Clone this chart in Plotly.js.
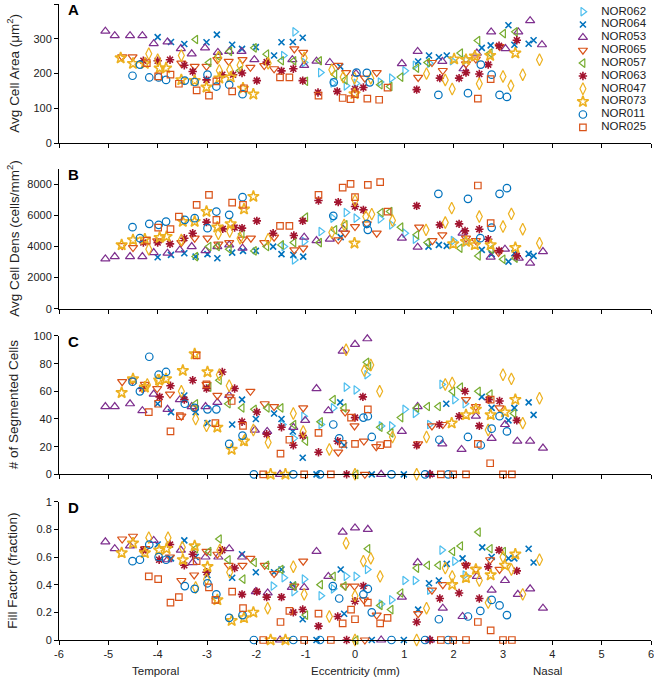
<!DOCTYPE html>
<html>
<head>
<meta charset="utf-8">
<script src="https://cdn.plot.ly/plotly-3.0.1.min.js"></script>
<style>html,body{margin:0;padding:0;background:#fff;}#chart{width:654px;height:681px;}</style>
</head>
<body>
<div id="chart"></div>
<script>
// ---------------- DATA ----------------
const seriesNames = ["NOR062","NOR064","NOR053","NOR065","NOR057","NOR063","NOR047","NOR073","NOR011","NOR025"];
const xTickVals = [-6,-5,-4,-3,-2,-1,0,1,2,3,4,5,6];
const xTickText = ["-6","-5","-4","-3","-2","-1","0","1","2","3","4","5","6"];

// Panel A: Avg Cell Area (um^2)
const A_NOR062_x = [-1.45,-1.22,-1.03,-0.70,-0.45,-0.18,0.02,0.51,0.74,1.01,1.22,1.51,1.97,2.25];
const A_NOR062_y = [252,320,232,203,173,165,172,176,187,208,224,230,237,240];
const A_NOR064_x = [-4.0,-3.73,-3.46,-3.01,-2.80,-2.49,-2.29,-2.01,-1.64,-1.49,-1.26,-1.06,-0.30,1.28,1.50,1.70,1.86,2.57,2.75,3.11,3.23,3.52,3.62];
const A_NOR064_y = [305,291,285,290,312,283,271,276,252,290,291,303,220,235,252,247,252,274,281,339,283,286,296];
const A_NOR053_x = [-5.06,-4.87,-4.56,-4.31,-4.08,-3.80,-3.53,-3.31,-3.04,-2.78,-2.55,-2.30,-2.04,-1.27,-1.03,-0.78,-0.51,0.02,0.95,1.27,1.77,2.20,2.47,2.76,3.05,3.31,3.55,3.79];
const A_NOR053_y = [322,309,309,309,286,291,272,257,274,261,264,264,240,240,224,236,232,200,229,264,235,214,259,320,272,320,352,283];
const A_NOR065_x = [-4.72,-4.51,-3.52,-3.25,-3.01,-2.79,-2.56,-2.28,-2.12,-1.84,-1.64,-1.23,-1.05,-0.34,-0.18,0.20,0.44,1.28,1.56,1.78,2.25,2.45,2.93];
const A_NOR065_y = [248,248,230,221,221,240,235,240,218,223,214,271,261,224,203,187,203,189,232,209,228,242,278];
const A_NOR057_x = [-3.23,-2.96,-2.77,-2.54,-2.33,-2.04,-1.79,-1.49,-1.24,-1.00,-0.72,-0.41,-0.20,0.51,0.71,0.93,1.25,1.47,2.14,2.49,2.74,3.01,3.25];
const A_NOR057_y = [298,232,250,264,209,274,256,237,237,178,237,198,182,168,163,190,216,232,259,295,259,315,320];
const A_NOR063_x = [-4.29,-4.00,-3.75,-3.46,-3.29,-3.01,-2.69,-2.47,-2.29,-1.99,-1.79,-1.49,-1.25,-1.06,-0.75,-0.36,0.00,0.17,1.25,1.72,2.11,2.25,2.52,2.70,2.92,3.28];
const A_NOR063_y = [237,237,240,224,206,182,197,197,202,180,233,208,214,180,146,149,156,160,154,187,187,203,199,226,280,296];
const A_NOR047_x = [-4.18,-4.00,-3.52,-2.77,-2.75,-2.54,-2.33,-1.76,-1.03,-0.47,-0.24,-0.01,0.32,1.45,1.83,1.97,2.52,3.00,3.16,3.40,3.74];
const A_NOR047_y = [257,240,252,247,209,211,224,230,245,211,190,187,187,200,182,156,171,192,165,197,240];
const A_NOR073_x = [-4.75,-4.50,-4.26,-3.96,-3.83,-3.52,-3.25,-3.01,-2.75,-2.52,-2.27,-2.06,-0.01,2.01,2.25,2.43,2.74,3.25];
const A_NOR073_y = [245,229,229,216,216,182,180,161,187,190,158,141,142,242,240,250,252,259];
const A_NOR011_x = [-4.51,-4.36,-4.17,-3.98,-3.83,-3.45,-3.25,-2.99,-2.81,-2.55,-2.28,-0.43,0.03,0.24,0.30,1.69,2.29,2.55,2.77,2.93,3.08];
const A_NOR011_y = [194,226,189,189,182,180,176,197,163,168,141,175,203,202,175,139,144,226,197,139,133];
const A_NOR025_x = [-4.22,-3.99,-3.74,-3.57,-3.21,-2.96,-2.81,-2.49,-2.25,-1.52,-1.33,-0.74,-0.25,-0.09,0.00,0.25,0.49,0.66,2.49,2.75];
const A_NOR025_y = [230,192,197,171,152,137,178,149,158,189,189,137,130,127,141,128,125,160,128,184];

// Panel B: Avg Cell Density (cells/mm^2)
const B_NOR062_x = [-1.44,-1.23,-1.03,-0.69,-0.45,-0.18,0.02,0.51,0.74,1.01,1.22,1.99,2.25];
const B_NOR062_y = [4000,3141,4322,4967,5831,6192,5831,5786,5399,4863,4476,4386,4322];
const B_NOR064_x = [-4.0,-3.73,-3.46,-3.23,-2.99,-2.79,-2.49,-2.27,-2.01,-1.66,-1.49,-1.25,-1.05,-0.29,1.49,1.70,1.86,2.57,2.77,3.11,3.23,3.52,3.62];
const B_NOR064_y = [3315,3464,3573,3354,3509,3251,3612,3722,3722,4000,3509,3464,3354,4605,4000,4109,4044,3786,3509,3032,3573,3528,3399];
const B_NOR053_x = [-5.06,-4.87,-4.56,-4.31,-4.08,-3.80,-3.55,-3.31,-3.03,-2.79,-2.55,-2.28,-1.03,-0.78,-0.51,-0.24,0.95,1.27,2.18,2.75,3.04,3.32,3.55,3.81];
const B_NOR053_y = [3206,3354,3354,3354,3612,3573,3786,4000,3741,4000,4109,3896,4605,4386,4476,5121,4541,3960,4863,3315,3831,3251,2928,3677];
const B_NOR065_x = [-4.72,-4.50,-4.01,-3.52,-3.25,-2.99,-2.77,-2.55,-2.28,-2.11,-1.84,-1.64,-1.23,-1.05,-0.34,-0.20,0.00,0.24,0.44,1.30,1.57,1.77,2.25,2.45,2.91];
const B_NOR065_y = [4064,3935,4367,4257,4541,4541,4154,4257,4476,4541,4257,4605,3786,3896,4431,4863,5289,5463,4863,5250,4386,4754,4541,4386,3612];
const B_NOR057_x = [-3.23,-2.96,-2.79,-2.55,-2.29,-2.04,-1.79,-1.49,-1.24,-1.00,-0.72,-0.41,-0.20,0.53,0.71,0.93,1.25,1.47,2.13,2.50,2.76,3.00,3.25];
const B_NOR057_y = [3354,4000,4000,3831,4818,3722,4000,4109,4257,5895,4257,5076,5399,6192,6257,5250,4754,4257,3896,3399,3831,3186,3251];
const B_NOR063_x = [-4.29,-4.00,-3.75,-3.46,-3.29,-3.01,-2.68,-2.44,-2.29,-1.99,-1.66,-1.24,-1.06,-0.74,-0.34,0.00,0.17,1.25,1.72,2.11,2.23,2.52,2.70,2.92,3.28];
const B_NOR063_y = [4257,4257,4173,4541,4863,5573,5141,5225,5186,5657,4863,4709,5657,6966,6863,6579,6366,6624,5399,5463,5012,5121,4476,3741,3399];
const B_NOR047_x = [-4.18,-3.52,-2.77,-2.54,-2.33,-1.76,-0.47,-0.22,0.00,0.22,0.34,0.76,1.44,1.83,1.96,2.52,3.00,3.17,3.40,3.74];
const B_NOR047_y = [3831,4431,4818,4967,4541,4476,4902,5399,6966,5934,6089,5676,5076,5547,6476,5934,5289,6108,5121,4218];
const B_NOR073_x = [-4.73,-4.50,-4.26,-3.96,-3.82,-3.49,-3.25,-3.01,-2.79,-2.52,-2.25,-2.06,-0.01,1.99,2.25,2.43,2.75,3.25];
const B_NOR073_y = [4109,4431,4476,4580,4644,5612,5612,6257,5250,5463,6411,7224,4218,4173,4322,4109,4109,3935];
const B_NOR011_x = [-4.51,-4.36,-4.17,-3.98,-3.83,-3.45,-3.25,-2.99,-2.81,-2.55,-2.28,-0.44,0.24,0.26,1.69,2.29,2.54,2.77,2.93,3.08];
const B_NOR011_y = [5250,4541,5463,5399,5612,5721,5831,5186,6257,6044,7185,5979,5463,5076,7398,7076,4541,5225,7398,7766];
const B_NOR025_x = [-4.22,-3.99,-3.74,-3.57,-3.21,-2.96,-2.81,-2.49,-2.27,-1.52,-1.33,-0.74,-0.25,-0.09,0.00,0.26,0.51,0.66,2.49,2.75];
const B_NOR025_y = [4386,5225,5121,5934,6689,7334,5721,6837,6689,5334,5334,7334,7804,8043,7185,7979,8153,6257,7934,5508];

// Panel C: # of Segmented Cells
const C_NOR062_x = [-1.47,-1.24,-1.04,-0.69,-0.44,-0.18,0.02,0.24,0.53,0.74,1.01,1.22,1.51,1.76,2.02,2.23];
const C_NOR062_y = [36,26,42,36,48,63,61,72,35,35,47,44,36,65,54,51];
const C_NOR064_x = [-4.0,-3.73,-3.46,-3.23,-2.99,-2.49,-2.29,-2.01,-1.64,-1.49,-1.26,-1.06,-0.30,-0.22,1.85,2.57,2.77,3.11,3.23,3.52,3.62,-0.78,0.34,0.99];
const C_NOR064_y = [51,45,57,45,37,36,54,40,44,40,31,12,52,21,51,56,48,39,48,52,43,0,0,0];
const C_NOR053_x = [-5.06,-4.87,-4.56,-4.31,-4.08,-3.80,-3.55,-3.31,-3.03,-2.79,-2.55,-2.03,-1.78,-1.25,-1.01,-0.78,-0.54,-0.25,0.00,0.25,0.95,1.27,1.77,2.16,2.45,2.77,3.04,3.29,3.55,3.81,-1.52,0.53,1.52];
const C_NOR053_y = [49,49,51,46,58,47,54,49,49,52,57,32,31,34,39,62,46,89,94,98,31,49,22,18,42,26,36,24,24,19,0,0,0];
const C_NOR065_x = [-4.72,-4.51,-4.26,-4.01,-3.75,-3.52,-3.26,-3.01,-2.79,-2.54,-2.12,-1.83,-1.64,-1.05,-0.34,-0.20,-0.01,0.18,0.43,1.28,1.56,1.78,2.25,2.45,2.93,0.20];
const C_NOR065_y = [67,68,65,62,58,42,48,65,57,56,60,51,49,48,16,45,35,24,20,22,35,36,54,49,48,0];
const C_NOR057_x = [-3.23,-2.96,-2.75,-2.57,-2.29,-2.04,-1.78,-1.50,-1.24,-1.00,-0.70,-0.44,-0.22,0.24,0.28,0.51,0.73,0.93,1.25,1.47,1.69,1.98,2.14,2.50,2.74,3.22,0.02];
const C_NOR057_y = [51,63,68,51,48,47,48,48,36,24,38,54,48,81,78,34,30,41,48,49,49,60,63,60,58,44,0];
const C_NOR063_x = [-4.31,-3.96,-3.74,-3.46,-3.29,-3.01,-2.69,-2.44,-2.29,-1.99,-1.79,-1.49,-1.25,-1.06,-0.74,-0.35,0.00,0.16,1.25,1.71,2.11,2.23,2.52,2.71,2.93,3.28,-0.17,1.52];
const C_NOR063_y = [62,56,64,54,68,62,74,62,38,45,29,34,21,28,16,24,41,56,21,36,42,60,35,54,53,39,0,0];
const C_NOR047_x = [-4.21,-4.0,-3.52,-3.23,-3.01,-2.75,-2.55,-2.23,-2.06,-1.76,-1.25,-1.05,-0.52,-0.18,0.19,0.32,0.50,0.76,1.45,1.83,1.97,2.70,3.00,3.17,3.40,3.74,0.00,1.25];
const C_NOR047_y = [65,68,60,40,35,72,64,25,32,23,44,31,18,90,75,79,60,27,27,65,66,32,72,69,37,55,0,0];
const C_NOR073_x = [-4.73,-4.50,-4.26,-3.97,-3.83,-3.49,-3.25,-2.99,-2.79,-2.50,-2.25,1.96,2.25,2.45,2.75,3.04,3.25,-1.71,-1.41];
const C_NOR073_y = [59,69,63,68,69,75,87,74,34,18,24,37,43,47,43,45,54,0,0];
const C_NOR011_x = [-4.51,-4.36,-4.17,-3.98,-3.83,-3.45,-3.25,-2.99,-2.81,-2.55,-2.28,-0.44,-0.32,0.17,0.26,0.34,1.71,2.29,2.55,2.77,2.93,3.08,-2.05,-1.25,-0.71,0.74,1.42,1.89];
const C_NOR011_y = [67,60,85,72,74,51,48,47,47,22,28,36,26,41,42,27,25,27,21,33,42,31,0,0,0,0,0,0];
const C_NOR025_x = [-4.18,-3.99,-3.74,-3.55,-3.21,-3.01,-2.83,-2.50,-2.27,-1.51,-1.33,-0.74,-0.25,-0.08,0.00,0.26,0.51,0.66,2.49,2.75,2.74,-1.86,-1.03,-0.49,1.74,1.99,2.25,3.00,3.18];
const C_NOR025_y = [45,51,31,42,86,65,37,53,35,15,25,30,22,41,22,47,21,22,22,54,8,0,0,0,0,0,0,0,0];

// Panel D: Fill Factor (fraction)
const D_NOR062_x = [-1.66,-1.44,-1.24,-1.03,-0.69,-0.44,-0.18,0.02,0.25,0.53,0.74,1.01,1.22,1.51,1.76,2.02,2.23];
const D_NOR062_y = [0.39,0.45,0.35,0.44,0.32,0.37,0.46,0.46,0.51,0.26,0.29,0.43,0.43,0.36,0.65,0.57,0.47];
const D_NOR064_x = [-4.0,-3.73,-3.46,-3.23,-2.99,-2.49,-2.29,-2.01,-1.64,-1.49,-1.26,-1.06,-0.29,-0.22,1.28,1.50,1.70,1.86,2.18,2.58,2.77,3.11,3.23,3.52,3.62,-0.78,0.34,0.99];
const D_NOR064_y = [0.69,0.59,0.72,0.60,0.47,0.45,0.62,0.49,0.49,0.51,0.40,0.15,0.51,0.19,0.22,0.41,0.43,0.55,0.59,0.67,0.60,0.59,0.59,0.66,0.56,0,0,0];
const D_NOR053_x = [-5.06,-4.87,-4.56,-4.08,-3.80,-3.53,-3.29,-3.03,-2.77,-2.55,-2.29,-2.01,-1.77,-1.28,-1.03,-0.78,-0.54,-0.25,0.00,0.26,0.95,1.27,1.78,2.18,2.47,2.77,3.04,3.30,3.55,3.81,-1.52,0.53,1.52];
const D_NOR053_y = [0.71,0.66,0.68,0.72,0.58,0.65,0.56,0.60,0.60,0.66,0.60,0.35,0.34,0.38,0.38,0.64,0.46,0.78,0.81,0.80,0.31,0.56,0.23,0.17,0.46,0.36,0.43,0.33,0.37,0.23,0,0,0];
const D_NOR065_x = [-4.72,-4.50,-4.25,-3.75,-3.52,-3.26,-3.01,-2.79,-2.56,-2.28,-2.12,-1.83,-1.64,-1.23,-1.05,-0.20,-0.01,0.18,0.44,1.28,1.56,1.78,2.25,2.45,2.74,2.93,0.20];
const D_NOR065_y = [0.73,0.75,0.66,0.60,0.43,0.47,0.64,0.62,0.54,0.54,0.59,0.54,0.48,0.39,0.57,0.39,0.39,0.29,0.18,0.19,0.36,0.40,0.54,0.51,0.58,0.51,0];
const D_NOR057_x = [-3.23,-2.96,-2.75,-2.57,-2.27,-2.04,-1.79,-1.50,-1.24,-1.00,-0.70,-0.44,-0.22,0.26,0.51,0.73,0.93,1.25,1.47,1.69,1.98,2.14,2.50,2.74,3.01,0.02];
const D_NOR057_y = [0.66,0.64,0.73,0.58,0.44,0.56,0.54,0.51,0.39,0.18,0.40,0.46,0.39,0.66,0.25,0.22,0.34,0.52,0.54,0.54,0.64,0.68,0.78,0.66,0.64,0];
const D_NOR063_x = [-4.29,-3.97,-3.75,-3.46,-3.29,-3.01,-2.69,-2.44,-2.29,-1.99,-1.79,-1.49,-1.25,-1.06,-0.74,-0.35,0.00,0.17,1.25,1.72,2.11,2.25,2.52,2.70,2.92,3.28,-0.17,1.52];
const D_NOR063_y = [0.65,0.58,0.69,0.54,0.62,0.49,0.65,0.52,0.33,0.35,0.31,0.31,0.20,0.22,0.10,0.17,0.28,0.39,0.13,0.30,0.34,0.54,0.30,0.53,0.65,0.50,0,0];
const D_NOR047_x = [-4.18,-3.79,-3.50,-3.23,-3.01,-2.74,-2.54,-1.77,-1.25,-1.03,-0.52,-0.18,0.00,0.17,0.32,0.51,1.45,1.83,1.97,2.52,2.70,3.00,3.17,3.40,3.74,0.00,1.25];
const D_NOR047_y = [0.74,0.74,0.67,0.38,0.44,0.65,0.49,0.23,0.53,0.33,0.17,0.70,0.32,0.57,0.59,0.46,0.23,0.52,0.46,0.43,0.27,0.60,0.51,0.33,0.58,0,0];
const D_NOR073_x = [-4.73,-4.50,-4.26,-3.97,-3.82,-3.49,-3.25,-2.99,-2.79,-2.50,-2.25,-2.06,1.97,2.25,2.45,2.75,3.04,3.25,-1.71,-1.41];
const D_NOR073_y = [0.63,0.70,0.63,0.65,0.66,0.58,0.68,0.53,0.29,0.14,0.16,0.20,0.40,0.45,0.51,0.47,0.54,0.62,0,0];
const D_NOR011_x = [-4.51,-4.36,-4.17,-3.98,-3.83,-3.45,-3.25,-2.99,-2.81,-2.55,-2.28,-0.45,-0.32,0.17,0.26,0.34,1.70,2.29,2.54,2.77,2.93,3.08,-2.05,-1.25,-0.71,0.74,1.42,1.89];
const D_NOR011_y = [0.57,0.58,0.69,0.60,0.58,0.39,0.37,0.41,0.33,0.16,0.18,0.39,0.30,0.33,0.37,0.20,0.15,0.17,0.21,0.29,0.25,0.18,0,0,0,0,0,0];
const D_NOR025_x = [-4.18,-3.99,-3.74,-3.57,-3.21,-2.96,-2.83,-2.49,-2.27,-1.51,-1.33,-0.74,-0.25,-0.08,0.00,0.26,0.51,0.66,2.49,2.75,-1.86,-1.03,-0.49,1.74,1.99,2.25,3.00,3.18];
const D_NOR025_y = [0.46,0.44,0.27,0.31,0.57,0.38,0.29,0.35,0.23,0.13,0.21,0.19,0.12,0.22,0.15,0.27,0.12,0.16,0.13,0.07,0,0,0,0,0,0,0,0];

// ---------------- STYLES ----------------
const styles = {
  NOR062: {color:"#4DBEEE", symbol:"triangle-right-open", size:7.5, width:1.2},
  NOR064: {color:"#0072BD", symbol:"x-thin-open", size:6, width:1.6},
  NOR053: {color:"#7E2F8E", symbol:"triangle-up-open", size:8, width:1.2},
  NOR065: {color:"#D95319", symbol:"triangle-down-open", size:8, width:1.2},
  NOR057: {color:"#77AC30", symbol:"triangle-left-open", size:7.5, width:1.2},
  NOR063: {color:"#A2142F", symbol:"asterisk-open", size:7, width:1.6},
  NOR047: {color:"#EDB120", symbol:"diamond-tall-open", size:8.5, width:1.2},
  NOR073: {color:"#EDB120", symbol:"star-open", size:8.5, width:1.6},
  NOR011: {color:"#0072BD", symbol:"circle-open", size:7.5, width:1.2},
  NOR025: {color:"#D95319", symbol:"square-open", size:6.5, width:1.2}
};
const panelData = {
  A: {NOR062:[A_NOR062_x,A_NOR062_y],NOR064:[A_NOR064_x,A_NOR064_y],NOR053:[A_NOR053_x,A_NOR053_y],NOR065:[A_NOR065_x,A_NOR065_y],NOR057:[A_NOR057_x,A_NOR057_y],NOR063:[A_NOR063_x,A_NOR063_y],NOR047:[A_NOR047_x,A_NOR047_y],NOR073:[A_NOR073_x,A_NOR073_y],NOR011:[A_NOR011_x,A_NOR011_y],NOR025:[A_NOR025_x,A_NOR025_y]},
  B: {NOR062:[B_NOR062_x,B_NOR062_y],NOR064:[B_NOR064_x,B_NOR064_y],NOR053:[B_NOR053_x,B_NOR053_y],NOR065:[B_NOR065_x,B_NOR065_y],NOR057:[B_NOR057_x,B_NOR057_y],NOR063:[B_NOR063_x,B_NOR063_y],NOR047:[B_NOR047_x,B_NOR047_y],NOR073:[B_NOR073_x,B_NOR073_y],NOR011:[B_NOR011_x,B_NOR011_y],NOR025:[B_NOR025_x,B_NOR025_y]},
  C: {NOR062:[C_NOR062_x,C_NOR062_y],NOR064:[C_NOR064_x,C_NOR064_y],NOR053:[C_NOR053_x,C_NOR053_y],NOR065:[C_NOR065_x,C_NOR065_y],NOR057:[C_NOR057_x,C_NOR057_y],NOR063:[C_NOR063_x,C_NOR063_y],NOR047:[C_NOR047_x,C_NOR047_y],NOR073:[C_NOR073_x,C_NOR073_y],NOR011:[C_NOR011_x,C_NOR011_y],NOR025:[C_NOR025_x,C_NOR025_y]},
  D: {NOR062:[D_NOR062_x,D_NOR062_y],NOR064:[D_NOR064_x,D_NOR064_y],NOR053:[D_NOR053_x,D_NOR053_y],NOR065:[D_NOR065_x,D_NOR065_y],NOR057:[D_NOR057_x,D_NOR057_y],NOR063:[D_NOR063_x,D_NOR063_y],NOR047:[D_NOR047_x,D_NOR047_y],NOR073:[D_NOR073_x,D_NOR073_y],NOR011:[D_NOR011_x,D_NOR011_y],NOR025:[D_NOR025_x,D_NOR025_y]}
};
const panelAxes = {A:["x","y"],B:["x2","y2"],C:["x3","y3"],D:["x4","y4"]};

function markerFor(name){
  const s = styles[name];
  return {symbol:s.symbol, size:s.size, color:s.color, line:{color:s.color, width:s.width}};
}

const traces = [];
["A","B","C","D"].forEach(p => {
  seriesNames.forEach(name => {
    const d = panelData[p][name];
    traces.push({
      type:"scatter", mode:"markers", x:d[0], y:d[1], name:name,
      xaxis:panelAxes[p][0], yaxis:panelAxes[p][1],
      marker:markerFor(name), showlegend:false, cliponaxis:false, hoverinfo:"skip"
    });
  });
});

// legend drawn on its own hidden axes
seriesNames.forEach((name,i) => {
  traces.push({type:"scatter", mode:"markers", x:[0], y:[i], xaxis:"x5", yaxis:"y5",
    marker:markerFor(name), showlegend:false, cliponaxis:false, hoverinfo:"skip"});
});
traces.push({type:"scatter", mode:"text", x:seriesNames.map(()=>0.27), y:seriesNames.map((n,i)=>i),
  text:seriesNames, textposition:"middle right", xaxis:"x5", yaxis:"y5",
  textfont:{family:"Liberation Sans, Arial, sans-serif", size:11.5, color:"#222"},
  showlegend:false, cliponaxis:false, hoverinfo:"skip"});

// ---------------- LAYOUT ----------------
const FONT = "Liberation Sans, Arial, sans-serif";
function xax(showLabels){
  return {domain:[0,1], range:[-6,6], tickvals:xTickVals, ticktext:xTickText, showticklabels:showLabels,
    ticklabeloverflow:"allow",
    ticks:"outside", ticklen:4, tickwidth:1, tickcolor:"#000", showline:true, linecolor:"#000", linewidth:1,
    showgrid:false, zeroline:false, fixedrange:true, tickfont:{family:FONT, size:11, color:"#222"}};
}
function yax(domain, range, tickvals){
  return {domain:domain, range:range, tickvals:tickvals, ticks:"outside", ticklen:4, tickwidth:1, tickcolor:"#000",
    showline:true, linecolor:"#000", linewidth:1, showgrid:false, zeroline:false, fixedrange:true,
    tickfont:{family:FONT, size:11, color:"#222"}};
}
const domA=[0.781,1.0], domB=[0.521,0.7406], domC=[0.2605,0.478], domD=[0,0.2175];

const x1=xax(false), x2=xax(false), x3=xax(false), x4=xax(true);
x1.anchor="y"; x2.anchor="y2"; x3.anchor="y3"; x4.anchor="y4";
const y1=yax(domA,[0,400],[0,100,200,300,400]); y1.anchor="x";
const y2=yax(domB,[0,9000],[0,2000,4000,6000,8000]); y2.anchor="x2";
const y3=yax(domC,[0,100],[0,20,40,60,80,100]); y3.anchor="x3";
const y4=yax(domD,[0,1],[0,0.2,0.4,0.6,0.8,1]); y4.anchor="x4";

const ytx = -0.0777;
function ytitle(text, yref){
  return {text:text, xref:"paper", yref:yref, x:ytx, y:0.5, xanchor:"center", yanchor:"middle",
    textangle:-90, showarrow:false, font:{family:FONT, size:13.5, color:"#222"}};
}
function letter(text, yref){
  return {text:"<b>"+text+"</b>", xref:"paper", yref:yref, x:0.0253, y:0.957, xanchor:"center", yanchor:"middle",
    showarrow:false, font:{family:FONT, size:15, color:"#000"}};
}
const layout = {
  width:654, height:681, margin:{l:59, r:3, t:4, b:41},
  paper_bgcolor:"#fff", plot_bgcolor:"rgba(0,0,0,0)", showlegend:false,
  xaxis:x1, xaxis2:x2, xaxis3:x3, xaxis4:x4,
  yaxis:y1, yaxis2:y2, yaxis3:y3, yaxis4:y4,
  xaxis5:{domain:[0.885,1], range:[0,1], visible:false, fixedrange:true, anchor:"y5"},
  yaxis5:{domain:[0.8061,0.9879], range:[9,0], visible:false, fixedrange:true, anchor:"x5"},
  annotations:[
    ytitle("Avg Cell Area (μm<sup>2</sup>)","y domain"),
    ytitle("Avg Cell Dens (cells/mm<sup>2</sup>)","y2 domain"),
    ytitle("# of Segmented Cells","y3 domain"),
    ytitle("Fill Factor (fraction)","y4 domain"),
    letter("A","y domain"), letter("B","y2 domain"), letter("C","y3 domain"), letter("D","y4 domain"),
    {text:"Temporal", xref:"x4", yref:"paper", x:-4.04, y:-0.0487, xanchor:"center", yanchor:"middle", showarrow:false, font:{family:FONT,size:11.5,color:"#222"}},
    {text:"Eccentricity (mm)", xref:"x4", yref:"paper", x:0, y:-0.0487, xanchor:"center", yanchor:"middle", showarrow:false, font:{family:FONT,size:11.5,color:"#222"}},
    {text:"Nasal", xref:"x4", yref:"paper", x:3.9, y:-0.0487, xanchor:"center", yanchor:"middle", showarrow:false, font:{family:FONT,size:11.5,color:"#222"}}
  ]
};

Plotly.newPlot("chart", traces, layout, {staticPlot:true, displayModeBar:false});
</script>
</body>
</html>
